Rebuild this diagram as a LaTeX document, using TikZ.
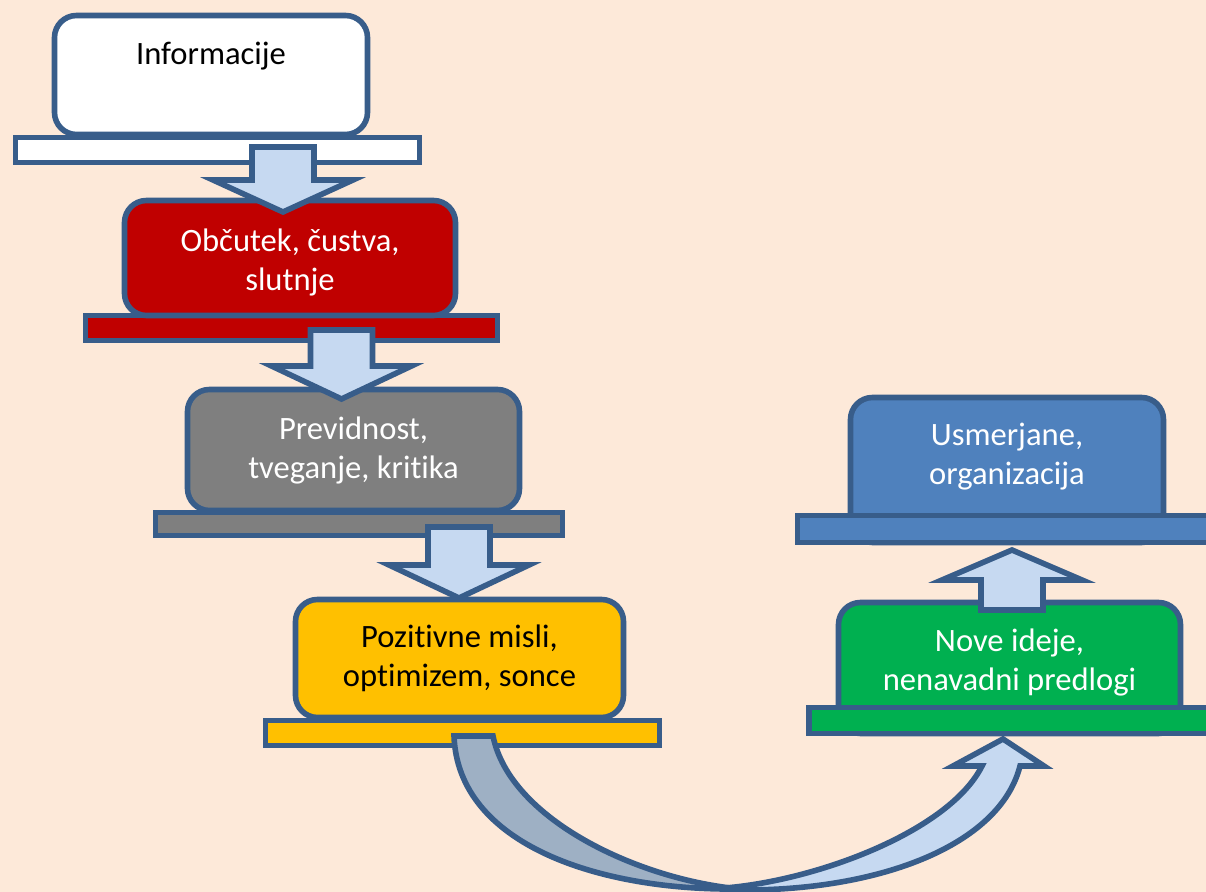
\documentclass[tikz,border=0pt]{standalone}
\usepackage{fontspec}
\setmainfont{Carlito}[RawFeature={-liga;-clig;-calt;-dlig}]
\usetikzlibrary{calc}
\definecolor{bgpeach}{HTML}{FDE9D9}
\definecolor{edgeblue}{HTML}{385D8A}
\definecolor{boxred}{HTML}{C00000}
\definecolor{boxgray}{HTML}{7F7F7F}
\definecolor{boxyellow}{HTML}{FFC000}
\definecolor{boxblue}{HTML}{4F81BD}
\definecolor{boxgreen}{HTML}{00B050}
\definecolor{arrowlight}{HTML}{C6D9F1}
\definecolor{arrowdark}{HTML}{9EB0C4}
% block arrow: #1 start of shaft, #2 tip, #3 head length (signed)
\newcommand{\blockarrow}[3]{%
  \draw[blockarrow] let \p1=#1, \p2=#2 in
    (\x1-15.5pt,\y1) -- (\x1+15.5pt,\y1) -- (\x1+15.5pt,\y2+#3)
    -- (\x1+35pt,\y2+#3) -- (\x2,\y2) -- (\x1-35pt,\y2+#3)
    -- (\x1-15.5pt,\y2+#3) -- cycle;}
\tikzset{
  box/.style={draw=edgeblue, line width=2.8pt, rounded corners=11pt,
    text=white, align=center, inner sep=0pt,
    font=\fontsize{16.3}{19.5}\selectfont},
  plate/.style={draw=edgeblue, line width=2.8pt, inner sep=0pt},
  boxtext/.style={align=center, inner sep=0pt,
    font=\fontsize{16.3}{19.5}\selectfont},
  blockarrow/.style={draw=edgeblue, line width=2.8pt, fill=arrowlight,
    line join=miter},
}

\begin{document}
\begin{tikzpicture}[x=0.5pt, y=-0.5pt]
	\path[use as bounding box, fill=bgpeach] (0,0) rectangle (1206,892);
	\clip (0,0) rectangle (1206,892);

	% left column
	\node[plate, fill=white, minimum width=202pt, minimum height=12.5pt] (infoplate) at (217.5,150) {};
	\node[box, fill=white, minimum width=156.5pt, minimum height=59.5pt] (info) at (211,75) {};
	\node[boxtext] (infotext) at (211,56) {Informacije};

	\node[plate, fill=boxred, minimum width=206pt, minimum height=12.5pt] (redplate) at (291.5,328) {};
	\node[box, fill=boxred, minimum width=165.5pt, minimum height=57.5pt] (feel) at (290,258) {};
	\node[boxtext, text=white] (feeltext) at (290,262) {Občutek, čustva,\\slutnje};

	\node[plate, fill=boxgray, minimum width=203.5pt, minimum height=11.5pt] (grayplate) at (359,524) {};
	\node[box, fill=boxgray, minimum width=166pt, minimum height=60.5pt] (caution) at (353.5,450)
		{Previdnost,\\tveganje, kritika};

	\node[plate, fill=boxyellow, minimum width=197pt, minimum height=12.5pt] (yellowplate) at (462.5,733) {};
	\node[box, fill=boxyellow, text=black, minimum width=164pt, minimum height=59pt] (positive) at (459.5,658.5)
		{Pozitivne misli,\\optimizem, sonce};

	\blockarrow{(283,147)}{(283,212)}{16pt}
	\blockarrow{(341.5,330)}{(341.5,399)}{16.5pt}
	\blockarrow{(459,527)}{(459,598)}{16.5pt}

	% right column
	\node[box, fill=boxblue, minimum width=156.5pt, minimum height=72.5pt] (organize) at (1007,470) {};
	\node[boxtext, text=white] (organizetext) at (1007,457) {Usmerjane,\\organizacija};
	\node[plate, fill=boxblue, minimum width=208.5pt, minimum height=13.5pt] (blueplate) at (1006,529) {};

	\node[box, fill=boxgreen, minimum width=171pt, minimum height=65.5pt] (ideas) at (1009.5,668) {};
	\node[boxtext, text=white] (ideastext) at (1009.5,662) {Nove ideje,\\nenavadni predlogi};
	\node[plate, fill=boxgreen, minimum width=203pt, minimum height=13pt] (greenplate) at (1012,720.5) {};

	\blockarrow{(1012,610)}{(1012,550)}{-15pt}

	% curved arrow
	\draw[blockarrow, fill=arrowlight] (740,890) .. controls (880,891) and (1000,845) .. (1020,766)
		-- (1044,766) -- (1003,739) -- (953,766) -- (982,766)
		.. controls (950,830) and (820,880) .. (725,888) -- cycle;
	\draw[blockarrow, fill=arrowdark] (454,736) -- (493,736)
		.. controls (510,820) and (640,880) .. (740,889)
		.. controls (600,891) and (458,845) .. (454,736) -- cycle;
\end{tikzpicture}
\end{document}
